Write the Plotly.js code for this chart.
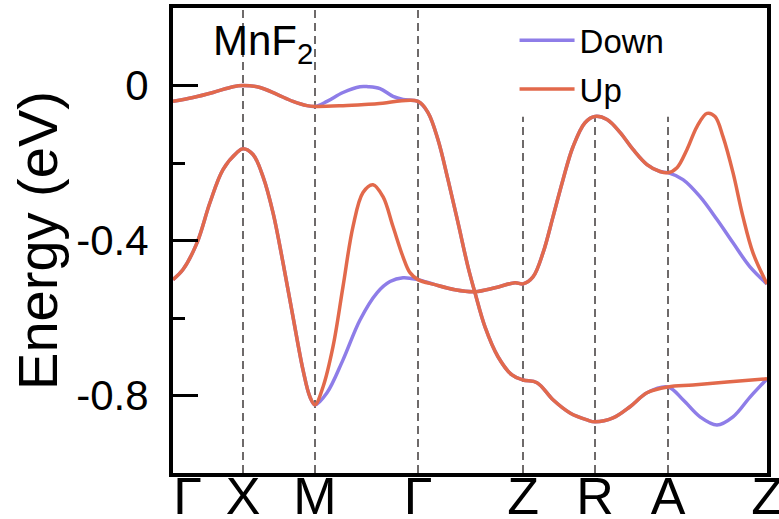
<!DOCTYPE html>
<html>
<head>
<meta charset="utf-8">
<script src="https://cdn.plot.ly/plotly-3.0.1.min.js"></script>
<style>
  html, body { margin: 0; padding: 0; background: #fff; }
  #chart { width: 779px; height: 519px; }
</style>
</head>
<body>
<div id="chart"></div>
<script>
// High-symmetry points along the k-path
const K_LABELS = ['Γ', 'X', 'M', 'Γ', 'Z', 'R', 'A', 'Z'];
const K_POS = [0, 0.70, 1.42, 2.45, 3.50, 4.22, 4.95, 5.94];

// Y-axis ticks
const Y_TICKS = [-0.8, -0.4, 0];
const Y_TICK_TEXT = ['-0.8', '-0.4', '0'];

// Spin-up, band 1 (upper)
const UP1_K = [0, 0.20, 0.40, 0.60, 0.70, 0.87, 1.04, 1.20, 1.34, 1.42,
  1.70, 2.04, 2.45,
  2.55, 2.65, 2.75, 2.85, 2.95, 3.02, 3.12, 3.25, 3.39, 3.50,
  3.64, 3.80, 3.97, 4.14, 4.22, 4.40, 4.57, 4.74, 4.95,
  5.20, 5.54, 5.94];
const UP1_E = [-0.041, -0.031, -0.018, -0.003, 0.000, -0.005, -0.023, -0.041, -0.052, -0.054,
  -0.052, -0.047, -0.041,
  -0.070, -0.140, -0.243, -0.354, -0.468, -0.535, -0.623, -0.700, -0.747, -0.760,
  -0.767, -0.811, -0.845, -0.863, -0.868, -0.858, -0.829, -0.793, -0.778,
  -0.773, -0.765, -0.757];

// Spin-up, band 2 (lower)
const UP2_K = [0, 0.10, 0.24, 0.37, 0.50, 0.64, 0.70, 0.80, 0.90, 1.00, 1.10, 1.20, 1.30, 1.37, 1.42,
  1.50, 1.60, 1.70, 1.80, 1.90, 2.00, 2.10, 2.20, 2.30, 2.37, 2.45,
  2.62, 2.82, 3.02, 3.22, 3.42, 3.50,
  3.60, 3.70, 3.80, 3.90, 4.00, 4.12, 4.22, 4.34, 4.47, 4.60, 4.74, 4.87, 4.95,
  5.04, 5.14, 5.24, 5.34, 5.42, 5.50, 5.60, 5.70, 5.80, 5.94];
const UP2_E = [-0.501, -0.475, -0.406, -0.302, -0.217, -0.173, -0.163, -0.178, -0.235, -0.328, -0.457, -0.597, -0.734, -0.804, -0.824,
  -0.778, -0.674, -0.519, -0.364, -0.276, -0.256, -0.287, -0.364, -0.442, -0.483, -0.501,
  -0.514, -0.527, -0.532, -0.522, -0.509, -0.512,
  -0.494, -0.432, -0.339, -0.243, -0.158, -0.096, -0.080, -0.088, -0.121, -0.165, -0.204, -0.222, -0.225,
  -0.212, -0.165, -0.106, -0.072, -0.080, -0.132, -0.225, -0.339, -0.432, -0.512];

// Spin-down, band 1 (upper)
const DN1_K = [0, 0.20, 0.40, 0.60, 0.70, 0.87, 1.04, 1.20, 1.34, 1.42,
  1.54, 1.70, 1.87, 1.95, 2.07, 2.20, 2.30, 2.45,
  2.55, 2.65, 2.75, 2.85, 2.95, 3.02, 3.12, 3.25, 3.39, 3.50,
  3.64, 3.80, 3.97, 4.14, 4.22, 4.40, 4.57, 4.74, 4.95,
  5.10, 5.27, 5.44, 5.60, 5.77, 5.94];
const DN1_E = [-0.041, -0.031, -0.018, -0.003, 0.000, -0.005, -0.023, -0.041, -0.052, -0.054,
  -0.041, -0.018, -0.003, -0.003, -0.008, -0.028, -0.036, -0.041,
  -0.070, -0.140, -0.243, -0.354, -0.468, -0.535, -0.623, -0.700, -0.747, -0.760,
  -0.767, -0.811, -0.845, -0.863, -0.868, -0.858, -0.829, -0.793, -0.778,
  -0.811, -0.855, -0.876, -0.855, -0.804, -0.757];

// Spin-down, band 2 (lower)
const DN2_K = [0, 0.10, 0.24, 0.37, 0.50, 0.64, 0.70, 0.80, 0.90, 1.00, 1.10, 1.20, 1.30, 1.37, 1.42,
  1.54, 1.70, 1.87, 2.04, 2.17, 2.30, 2.45,
  2.62, 2.82, 3.02, 3.22, 3.42, 3.50,
  3.60, 3.70, 3.80, 3.90, 4.00, 4.12, 4.22, 4.34, 4.47, 4.60, 4.74, 4.87, 4.95,
  5.10, 5.27, 5.44, 5.60, 5.77, 5.94];
const DN2_E = [-0.501, -0.475, -0.406, -0.302, -0.217, -0.173, -0.163, -0.178, -0.235, -0.328, -0.457, -0.597, -0.734, -0.804, -0.824,
  -0.793, -0.708, -0.605, -0.535, -0.506, -0.496, -0.501,
  -0.514, -0.527, -0.532, -0.522, -0.509, -0.512,
  -0.494, -0.432, -0.339, -0.243, -0.158, -0.096, -0.080, -0.088, -0.121, -0.165, -0.204, -0.222, -0.225,
  -0.243, -0.287, -0.346, -0.406, -0.468, -0.512];

const UP_COLOR = '#E2694B';
const DOWN_COLOR = '#8E7DE8';
const FONT = 'Liberation Sans, Arial, sans-serif';

function band(k, e, name, color, show) {
  return {
    x: k, y: e, type: 'scatter', mode: 'lines', name: name,
    legendgroup: name, showlegend: show,
    line: { color: color, width: 3.5, shape: 'spline', smoothing: 1 },
    hoverinfo: 'skip'
  };
}

const traces = [
  band(DN1_K, DN1_E, 'Down', DOWN_COLOR, true),
  band(DN2_K, DN2_E, 'Down', DOWN_COLOR, false),
  band(UP1_K, UP1_E, 'Up', UP_COLOR, true),
  band(UP2_K, UP2_E, 'Up', UP_COLOR, false)
];

// dashed vertical lines at interior high-symmetry points
const LEGEND_BOTTOM = 0.766;
const shapes = K_POS.slice(1, -1).map(k => ({
  type: 'line', xref: 'x', yref: 'paper', layer: 'below',
  x0: k, x1: k, y0: 0, y1: k > 3 ? LEGEND_BOTTOM : 1,
  line: { color: '#6e6a6a', width: 2, dash: '8px,5px' }
}));

const tickText = K_LABELS.map((t, i) => i === 0 ? '\u00A0\u00A0' + t : t);

const layout = {
  width: 779, height: 519,
  margin: { l: 173, r: 12, t: 8, b: 46 },
  paper_bgcolor: '#fff', plot_bgcolor: '#fff',
  showlegend: true,
  xaxis: {
    range: [K_POS[0], K_POS[K_POS.length - 1]],
    tickmode: 'array', tickvals: K_POS, ticktext: tickText,
    ticks: '', showgrid: false, zeroline: false,
    showline: true, mirror: true, linecolor: '#000', linewidth: 4,
    tickfont: { family: FONT, size: 52, color: '#000' },
    ticklabeloverflow: 'allow',
    ticklabelstandoff: -25
  },
  yaxis: {
    range: [-1.0, 0.2],
    tickmode: 'array', tickvals: Y_TICKS, ticktext: Y_TICK_TEXT,
    ticks: 'inside', ticklen: 25, tickwidth: 3, tickcolor: '#000',
    minor: { tickmode: 'linear', tick0: 0, dtick: 0.2, ticks: 'inside', ticklen: 12, tickwidth: 3, tickcolor: '#000', showgrid: false },
    showgrid: false, zeroline: false,
    showline: true, mirror: true, linecolor: '#000', linewidth: 4,
    tickfont: { family: FONT, size: 42, color: '#000' },
    ticklabelstandoff: 12,
    title: { text: 'Energy (eV)', font: { family: FONT, size: 56, color: '#000' }, standoff: 2 }
  },
  legend: {
    x: 0.575, y: 0.991, xanchor: 'left', yanchor: 'top',
    bgcolor: 'rgba(0,0,0,0)', borderwidth: 0,
    font: { family: FONT, size: 33, color: '#000' },
    itemwidth: 55, tracegroupgap: 3
  },
  annotations: [{
    text: 'MnF<sub>2</sub>', xref: 'paper', yref: 'paper',
    x: 0.064, y: 0.985, xanchor: 'left', yanchor: 'top', showarrow: false,
    font: { family: FONT, size: 42, color: '#000' }
  }],
  shapes: shapes
};

Plotly.newPlot('chart', traces, layout, { displayModeBar: false, staticPlot: true });
</script>
</body>
</html>
